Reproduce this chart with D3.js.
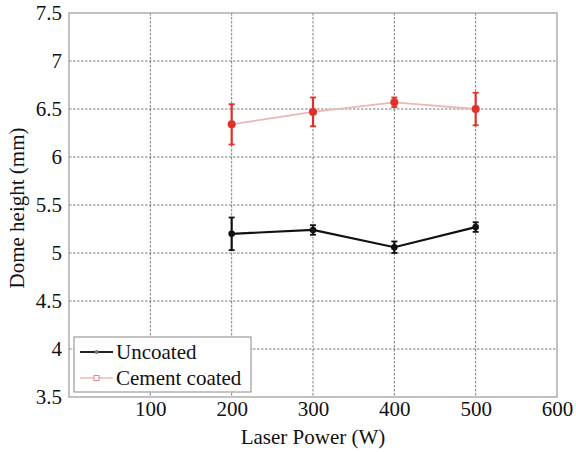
<!DOCTYPE html>
<html><head><meta charset="utf-8">
<script src="https://cdn.jsdelivr.net/npm/d3@7"></script>
<style>body{margin:0;background:#fff;} svg text{font-family:"Liberation Serif","Times New Roman",serif;}</style>
</head><body><svg id="c" width="576" height="452"></svg>
<script>
const power = [200, 300, 400, 500];
const uncoated = [5.20, 5.24, 5.06, 5.27];
const uncoatedErr = [0.17, 0.05, 0.06, 0.05];
const cement = [6.34, 6.47, 6.57, 6.50];
const cementErr = [0.21, 0.15, 0.05, 0.17];
const xTicks = [100, 200, 300, 400, 500, 600];
const yTicks = [3.5, 4, 4.5, 5, 5.5, 6, 6.5, 7, 7.5];

const svg = d3.select("#c");
const L = 69, R = 557, T = 13, B = 397;
const x = d3.scaleLinear().domain([0, 600]).range([L, R]);
const y = d3.scaleLinear().domain([3.5, 7.5]).range([B, T]);
const FONT = "'Liberation Serif','Times New Roman',serif";
const FS = 21;

// grid
const g = svg.append("g");
g.selectAll(".vg").data(xTicks.filter(d => d < 600)).enter().append("line")
  .attr("x1", d => x(d)).attr("x2", d => x(d)).attr("y1", T).attr("y2", B)
  .attr("stroke", "#444").attr("stroke-width", 0.7).attr("stroke-dasharray", "2.5,1.5");
g.selectAll(".hg").data(yTicks.filter(d => d > 3.5 && d < 7.5)).enter().append("line")
  .attr("y1", d => y(d)).attr("y2", d => y(d)).attr("x1", L).attr("x2", R)
  .attr("stroke", "#444").attr("stroke-width", 0.7).attr("stroke-dasharray", "2.5,1.5");

svg.append("rect").attr("x", L).attr("y", T).attr("width", R - L).attr("height", B - T)
  .attr("fill", "none").attr("stroke", "#999").attr("stroke-width", 1.2);

// axes
const xa = svg.append("g").attr("transform", `translate(0,${B})`)
  .call(d3.axisBottom(x).tickValues(xTicks).tickSize(0).tickPadding(4).tickFormat(d3.format("d")));
const ya = svg.append("g").attr("transform", `translate(${L},0)`)
  .call(d3.axisLeft(y).tickValues(yTicks).tickSize(0).tickPadding(7).tickFormat(d => String(d)));
[xa, ya].forEach(a => { a.attr("font-family", FONT).attr("font-size", FS);
  a.select(".domain").remove(); a.selectAll("text").attr("fill", "#111"); });

svg.append("text").attr("x", 313).attr("y", 444).attr("text-anchor", "middle").attr("font-family", FONT)
  .attr("font-size", FS).attr("fill", "#111").text("Laser Power (W)");
svg.append("text").attr("transform", "translate(24,208) rotate(-90)").attr("text-anchor", "middle").attr("font-family", FONT)
  .attr("font-size", FS).attr("fill", "#111").text("Dome height (mm)");

function series(vals, errs, lineColor, markColor, lw, r) {
  const pts = power.map((p, i) => ({p, v: vals[i], e: errs[i]}));
  svg.append("path").datum(pts).attr("fill", "none").attr("stroke", lineColor).attr("stroke-width", lw)
    .attr("d", d3.line().x(d => x(d.p)).y(d => y(d.v)));
  const eg = svg.append("g");
  eg.selectAll("line.eb").data(pts).enter().append("line").attr("class", "eb")
    .attr("x1", d => x(d.p)).attr("x2", d => x(d.p)).attr("y1", d => y(d.v - d.e)).attr("y2", d => y(d.v + d.e))
    .attr("stroke", markColor).attr("stroke-width", 2.2);
  [1, -1].forEach((s, k) => {
    eg.selectAll("line.cap" + k).data(pts).enter().append("line").attr("class", "cap" + k)
      .attr("x1", d => x(d.p) - 3).attr("x2", d => x(d.p) + 3)
      .attr("y1", d => y(d.v + s * d.e)).attr("y2", d => y(d.v + s * d.e))
      .attr("stroke", markColor).attr("stroke-width", 1.8);
  });
  eg.selectAll("circle").data(pts).enter().append("circle")
    .attr("cx", d => x(d.p)).attr("cy", d => y(d.v)).attr("r", r).attr("fill", markColor);
}
series(cement, cementErr, "#e9b8b8", "#e0302a", 1.8, 4);
series(uncoated, uncoatedErr, "#111", "#111", 2.2, 3.3);

// legend
const lg = svg.append("g").attr("font-family", FONT);
lg.append("rect").attr("x", 74).attr("y", 337).attr("width", 177).attr("height", 55)
  .attr("fill", "#fff").attr("stroke", "#888").attr("stroke-width", 1);
lg.append("line").attr("x1", 80).attr("x2", 113).attr("y1", 352).attr("y2", 352).attr("stroke", "#222").attr("stroke-width", 2);
lg.append("circle").attr("cx", 96.5).attr("cy", 352).attr("r", 2).attr("fill", "#777");
lg.append("text").attr("x", 116).attr("y", 359).attr("font-size", FS).attr("fill", "#111").text("Uncoated");
lg.append("line").attr("x1", 80).attr("x2", 113).attr("y1", 378).attr("y2", 378).attr("stroke", "#e9b8b8").attr("stroke-width", 1.5);
lg.append("rect").attr("x", 94).attr("y", 375.5).attr("width", 5).attr("height", 5).attr("fill", "#fff").attr("stroke", "#d88").attr("stroke-width", 1);
lg.append("text").attr("x", 116).attr("y", 385).attr("font-size", FS).attr("fill", "#111").text("Cement coated");
</script></body></html>
